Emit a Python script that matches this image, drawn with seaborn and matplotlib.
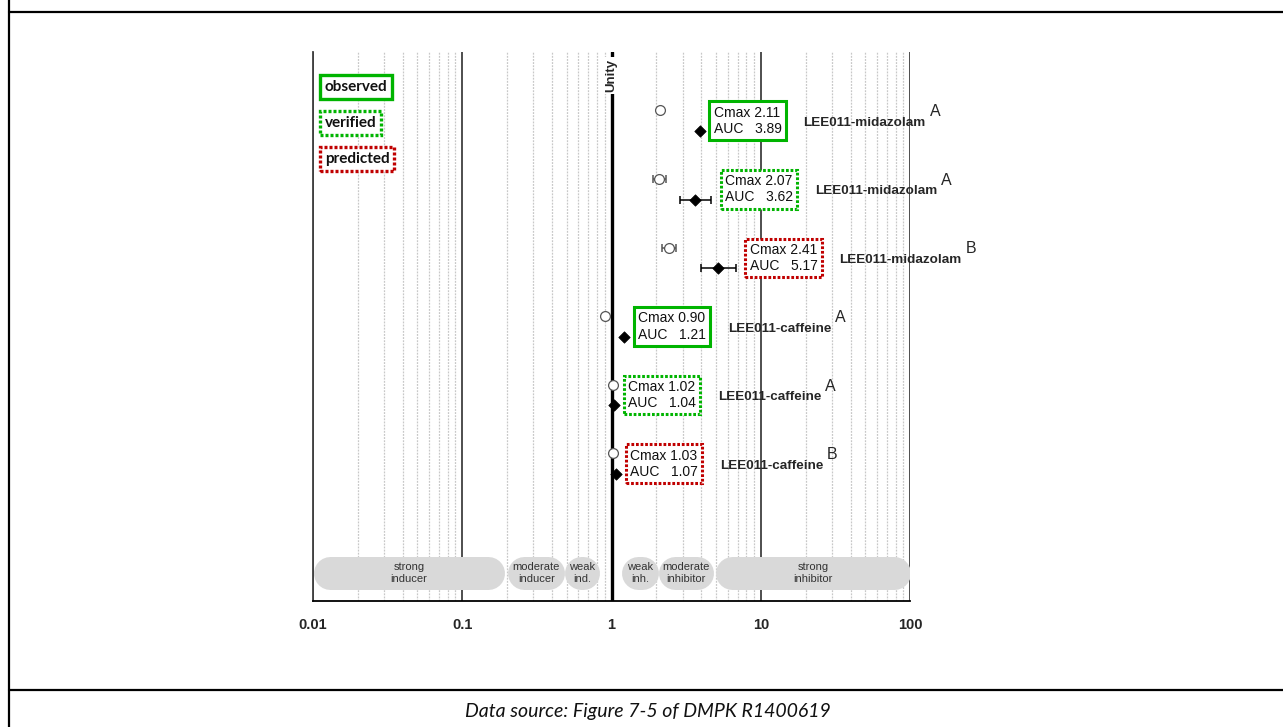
import numpy as np
import pandas as pd
import matplotlib
matplotlib.use("Agg")
import matplotlib.pyplot as plt
from matplotlib.lines import Line2D
import seaborn as sns

# ---------------- data ----------------
drugs = ["LEE011-midazolam", "LEE011-midazolam", "LEE011-midazolam",
         "LEE011-caffeine", "LEE011-caffeine", "LEE011-caffeine"]
refs = ["A", "A", "B", "A", "A", "B"]
status = ["observed", "verified", "predicted", "observed", "verified", "predicted"]
cmax = [2.11, 2.07, 2.41, 0.90, 1.02, 1.03]
auc = [3.89, 3.62, 5.17, 1.21, 1.04, 1.07]
cmax_lo = [np.nan, 1.90, 2.17, np.nan, np.nan, np.nan]
cmax_hi = [np.nan, 2.32, 2.71, np.nan, np.nan, np.nan]
auc_lo = [np.nan, 2.88, 3.98, np.nan, np.nan, np.nan]
auc_hi = [np.nan, 4.62, 6.79, np.nan, np.nan, np.nan]

class_labels = ["strong\ninducer", "moderate\ninducer", "weak\nind.",
                "weak\ninh.", "moderate\ninhibitor", "strong\ninhibitor"]
class_lo = [0.01, 0.202, 0.495, 1.175, 2.07, 5.0]
class_hi = [0.193, 0.488, 0.81, 2.05, 4.86, 100]

legend_items = ["observed", "verified", "predicted"]
ticks = [0.01, 0.1, 1, 10, 100]
tick_labels = ["0.01", "0.1", "1", "10", "100"]
caption = "Data source: Figure 7-5 of DMPK R1400619"

# ---------------- styles ----------------
GREEN = "#00b400"
RED = "#c00000"
box_style = {
    "observed": dict(edgecolor=GREEN, linestyle="-"),
    "verified": dict(edgecolor=GREEN, linestyle=(0, (0.9, 0.6))),
    "predicted": dict(edgecolor=RED, linestyle=(0, (0.9, 0.6))),
}

sns.set_style("white")
plt.rcParams["font.family"] = ["Liberation Sans", "DejaVu Sans"]

W, H = 1283, 727
fig = plt.figure(figsize=(W / 100, H / 100), dpi=100)
ax = fig.add_axes([313 / W, 1 - 601 / H, 597 / W, 549 / H])
ax.set_xscale("log")
ax.set_xlim(0.01, 100)
ax.set_ylim(8.0, 0.0)
ax.set_facecolor("white")

rows = np.arange(1, len(drugs) + 1)
off = 0.15
df = pd.DataFrame({
    "drug": drugs, "row": rows, "cmax": cmax, "auc": auc,
    "cmax_lo": cmax_lo, "cmax_hi": cmax_hi, "auc_lo": auc_lo, "auc_hi": auc_hi,
})
df["y_c"] = df["row"] - off
df["y_a"] = df["row"] + off

# grid lines
for dec in [0.01, 0.1, 1, 10]:
    for m in range(2, 10):
        ax.axvline(dec * m, color="#c8c8c8", lw=0.9, ls=(0, (1.5, 1)), zorder=0.5)
for t in [0.01, 0.1, 10, 100]:
    ax.axvline(t, color="#404040", lw=1.3, zorder=1)

# classification pills
pill_y = 7.59
pill_lw_px = 33
inset = 10 ** ((pill_lw_px / 2) / 149.25)
for lab, lo, hi in zip(class_labels, class_lo, class_hi):
    a, b = lo * inset, hi / inset
    if a >= b:
        g = np.sqrt(lo * hi)
        a, b = g / 1.015, g * 1.015
    ln, = ax.plot([a, b], [pill_y, pill_y], color="#d9d9d9", lw=pill_lw_px * 0.72,
                  solid_capstyle="round", zorder=2)
    ln.set_path_effects([])
    ax.text(np.sqrt(lo * hi), pill_y, lab, ha="center", va="center",
            fontsize=8, color="#333333", linespacing=1.2, zorder=3)

# unity line
ax.axvline(1, color="black", lw=2.4, zorder=4)
ax.text(1, 0.34, "Unity", rotation=90, ha="center", va="center", fontsize=9.5,
        fontweight="bold", zorder=5,
        bbox=dict(facecolor="white", edgecolor="none", pad=1.5))

# error bars
m = df["cmax_lo"].notna()
ax.errorbar(df.loc[m, "cmax"], df.loc[m, "y_c"],
            xerr=[df.loc[m, "cmax"] - df.loc[m, "cmax_lo"], df.loc[m, "cmax_hi"] - df.loc[m, "cmax"]],
            fmt="none", ecolor="#555555", elinewidth=1.1, capsize=3, capthick=1.1, zorder=5)
m = df["auc_lo"].notna()
ax.errorbar(df.loc[m, "auc"], df.loc[m, "y_a"],
            xerr=[df.loc[m, "auc"] - df.loc[m, "auc_lo"], df.loc[m, "auc_hi"] - df.loc[m, "auc"]],
            fmt="none", ecolor="black", elinewidth=1.1, capsize=3, capthick=1.1, zorder=5)

# points
sns.scatterplot(data=df, x="cmax", y="y_c", marker="o", s=50, color="white",
                edgecolor="#555555", linewidth=0.9, ax=ax, zorder=6, legend=False)
sns.scatterplot(data=df, x="auc", y="y_a", marker="D", s=34, color="black",
                edgecolor="black", linewidth=0.5, ax=ax, zorder=6, legend=False)

# value boxes and labels
for i in range(len(drugs)):
    anchor = np.nanmax([auc[i], auc_hi[i]])
    st = box_style[status[i]]
    box_txt = ax.annotate(
        f"Cmax {cmax[i]:.2f}\nAUC   {auc[i]:.2f}", xy=(anchor, rows[i]),
        xytext=(14 * 0.72, 0), textcoords="offset points", ha="left", va="center",
        fontsize=10, color="#111111", linespacing=1.2, zorder=7,
        bbox=dict(boxstyle="square,pad=0.3", facecolor="white", lw=2.2, **st))
    lab = ax.annotate(drugs[i], xy=(1, 0.5), xycoords=box_txt, xytext=(22 * 0.72, -2 * 0.72),
                      textcoords="offset points", ha="left", va="center",
                      fontsize=9.7, fontweight="bold", zorder=7)
    ax.annotate(refs[i], xy=(1, 0.5), xycoords=lab, xytext=(4 * 0.72, 11 * 0.72),
                textcoords="offset points", ha="left", va="center", fontsize=11.5, zorder=7)

# legend boxes
ly = [0.51, 1.035, 1.56]
for name, y in zip(legend_items, ly):
    st = box_style[name]
    ax.text(0.02, y, name, transform=ax.get_yaxis_transform(), ha="left", va="center",
            fontsize=11, fontweight="bold", family=["Lato", "DejaVu Sans"], color="#111111",
            zorder=7, bbox=dict(boxstyle="square,pad=0.3", facecolor="white", lw=2.4, **st))

# axes styling
for s in ["top", "right"]:
    ax.spines[s].set_visible(False)
ax.spines["left"].set_color("#404040")
ax.spines["left"].set_linewidth(1.3)
ax.spines["bottom"].set_color("black")
ax.spines["bottom"].set_linewidth(1.3)
ax.set_xticks(ticks)
ax.set_xticklabels(tick_labels)
ax.xaxis.set_minor_locator(matplotlib.ticker.NullLocator())
ax.tick_params(axis="x", which="major", direction="inout", length=8, width=1.2,
               pad=8, labelsize=10.5)
for t in ax.get_xticklabels():
    t.set_fontweight("bold")
ax.set_yticks([])
ax.set_xlabel("")
ax.set_ylabel("")

# surrounding frame and caption
fig.add_artist(Line2D([9 / W, 9 / W], [0, 1], transform=fig.transFigure, color="black", lw=1.6))
fig.add_artist(Line2D([9 / W, 1], [1 - 12 / H, 1 - 12 / H], transform=fig.transFigure, color="black", lw=1.6))
fig.add_artist(Line2D([9 / W, 1], [1 - 690 / H, 1 - 690 / H], transform=fig.transFigure, color="black", lw=1.6))
fig.text(648 / W, 1 - 711 / H, caption, ha="center", va="center", fontsize=14,
         style="italic", family=["Lato", "DejaVu Sans"], color="#111111")

fig.savefig("out.png", dpi=100)
